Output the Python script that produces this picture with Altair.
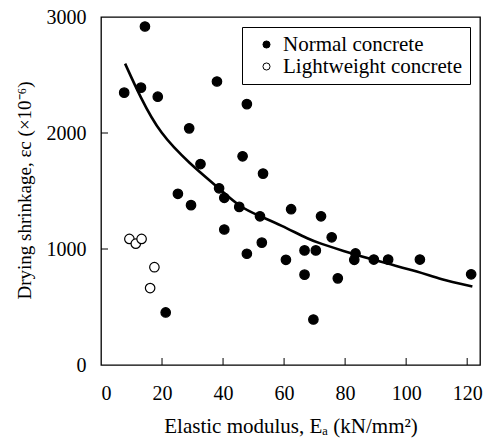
import altair as alt
import pandas as pd

# Normal concrete (elastic modulus kN/mm2, drying shrinkage x10^-6)
normal_x = [14.4, 7.6, 13.1, 18.6, 38.0, 47.8, 28.9, 32.6, 46.4, 53.1, 25.2, 29.5,
            38.7, 40.4, 45.3, 52.1, 62.3, 40.4, 47.8, 52.7, 60.6, 66.7, 66.7, 21.2,
            72.1, 75.6, 70.4, 77.6, 69.6, 83.4, 83.0, 89.4, 94.1, 104.5, 121.3]
normal_y = [2918, 2348, 2391, 2313, 2444, 2249, 2040, 1732, 1799, 1650, 1476, 1378,
            1523, 1441, 1363, 1282, 1343, 1168, 959, 1055, 907, 988, 779, 453,
            1282, 1101, 988, 747, 392, 962, 907, 909, 909, 909, 782]

# Lightweight concrete
light_x = [9.3, 11.4, 13.3, 17.5, 16.1]
light_y = [1087, 1046, 1087, 843, 663]

# Trend curve
curve_x = [7.9, 12.8, 19.3, 29.2, 38.5, 45.3, 52.1, 58.7, 68.5, 71.8, 78.4, 91.5, 104.6, 111.0, 121.7]
curve_y = [2598, 2313, 1994, 1732, 1528, 1363, 1282, 1209, 1078, 1049, 991, 889, 802, 738, 677]

series_names = ["Normal concrete", "Lightweight concrete"]
x_tick_values = [0, 20, 40, 60, 80, 100, 120]
y_tick_values = [0, 1000, 2000, 3000]
x_inner_ticks = [20, 40, 60, 80, 100, 120]
y_inner_ticks = [1000, 2000]

FONT = "Liberation Serif"
W, H = 379, 348

pts = pd.DataFrame({
    "E": normal_x + light_x,
    "S": normal_y + light_y,
    "type": [series_names[0]] * len(normal_x) + [series_names[1]] * len(light_x),
})
curve = pd.DataFrame({"E": curve_x, "S": curve_y})
xt = pd.DataFrame({"E": x_inner_ticks})
yt = pd.DataFrame({"S": y_inner_ticks})

xscale = alt.Scale(domain=[0, 124.2], nice=False, zero=False)
yscale = alt.Scale(domain=[0, 3000], nice=False)

xaxis = alt.Axis(values=x_tick_values, format="d", ticks=False, domain=False, grid=False,
                 labelFont=FONT, labelFontSize=20, labelColor="black", labelPadding=18,
                 title="Elastic modulus, Eₐ (kN/mm²)", titleFont=FONT, titleFontSize=21,
                 titleFontWeight="normal", titleColor="black",
                 titleY=67, titleBaseline="alphabetic")
yaxis = alt.Axis(values=y_tick_values, format="d", ticks=False, domain=False, grid=False,
                 labelFont=FONT, labelFontSize=20, labelColor="black", labelPadding=15,
                 title="Drying shrinkage,  εc (×10⁻⁶)", titleFont=FONT, titleFontSize=19,
                 titleFontWeight="normal", titleColor="black",
                 titleX=-71, titleY=H / 2 - 1, titleAngle=-90, titleBaseline="alphabetic",
                 titleAlign="center")

line = alt.Chart(curve).mark_line(color="black", strokeWidth=2.6, interpolate="basis").encode(
    x=alt.X("E:Q", scale=xscale, axis=xaxis),
    y=alt.Y("S:Q", scale=yscale, axis=yaxis),
)

points = alt.Chart(pts).mark_point(shape="circle", filled=True, opacity=1, size=90,
                                   stroke="black", strokeWidth=1.2).encode(
    x=alt.X("E:Q", scale=xscale),
    y=alt.Y("S:Q", scale=yscale),
    fill=alt.Fill("type:N", scale=alt.Scale(domain=series_names, range=["black", "white"]),
                  legend=alt.Legend(title=None, orient="none", legendX=141, legendY=10,
                                    labelFont=FONT, labelFontSize=21, labelColor="black",
                                    labelLimit=400,
                                    symbolType="circle", symbolSize=50,
                                    symbolStrokeColor="black", symbolStrokeWidth=1,
                                    symbolOffset=7, labelOffset=6, rowPadding=0,
                                    padding=7, strokeColor="black", fillColor="white")),
)

xticks = alt.Chart(xt).mark_rule(color="black", strokeWidth=1).encode(
    x=alt.X("E:Q", scale=xscale), y=alt.value(H), y2=alt.value(H - 7))
yticks = alt.Chart(yt).mark_rule(color="black", strokeWidth=1).encode(
    y=alt.Y("S:Q", scale=yscale), x=alt.value(0), x2=alt.value(7))

chart = alt.layer(xticks, yticks, line, points).properties(
    width=W, height=H,
    autosize=alt.AutoSizeParams(type="none"),
    padding={"left": 101, "top": 17, "right": 5, "bottom": 76},
    background="white",
).configure(font=FONT).configure_axis(labelFont=FONT, titleFont=FONT).configure_legend(
    labelFont=FONT
).configure_view(stroke="black", strokeWidth=1.3)

chart.save("out.html", embed_options={"renderer": "svg", "actions": False})
